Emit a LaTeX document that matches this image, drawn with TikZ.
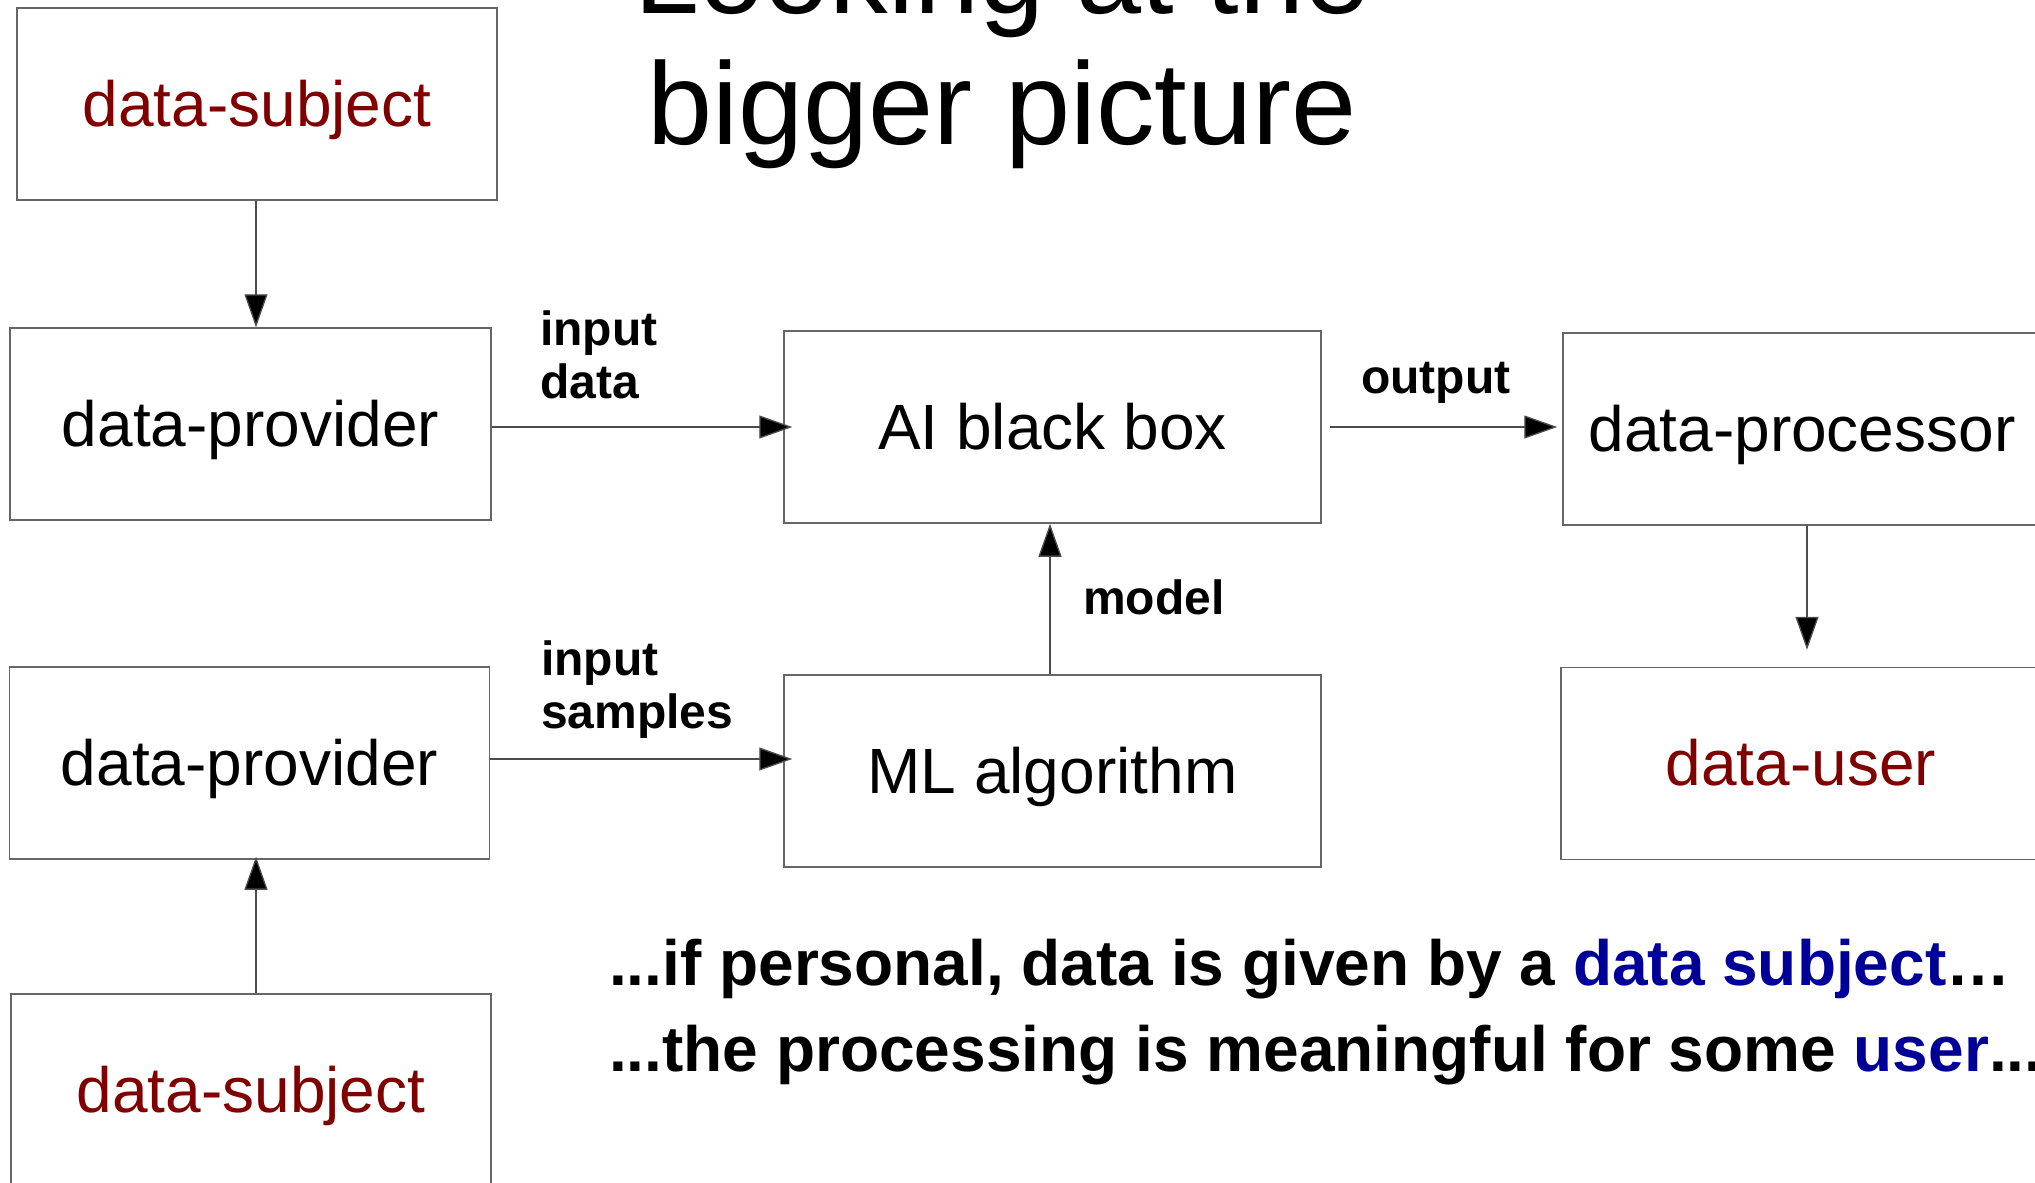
\documentclass[tikz,border=0pt]{standalone}
\usepackage{fontspec}
\setmainfont{Liberation Sans}
\usetikzlibrary{arrows.meta}
\definecolor{subjred}{HTML}{800000}
\definecolor{hiblue}{HTML}{000099}
\definecolor{edgegray}{HTML}{666666}
\begin{document}
\begin{tikzpicture}[x=1pt,y=-1pt,
  box/.style={draw=edgegray, line width=1.5pt, inner sep=0pt, minimum height=192pt,
    font=\fontsize{64}{74}\selectfont, text height=57.6pt, text depth=13.4pt},
  flow/.style={draw=black!70, line width=1.3pt, -{Triangle[length=33pt,width=23pt,fill=black]}},
  lbl/.style={font=\fontsize{48}{53}\selectfont\bfseries, inner sep=0pt, align=left},
]
\useasboundingbox (0,0) rectangle (2035,1183);
\clip (0,0) rectangle (2035,1183);

% title (base anchor sits on the last line)
\node[font=\fontsize{117}{131}\selectfont, inner sep=0pt, align=center, anchor=base]
  (title) at (1002,144) {Looking at the\\bigger picture};

% boxes
\node[box, minimum width=480pt, text=subjred] (ds1) at (257,104)    {data-subject};
\node[box, minimum width=481pt]               (dp1) at (250.5,424)  {data-provider};
\node[box, minimum width=537pt]               (ai)  at (1052.5,427) {AI black box};
\node[box, minimum width=478pt]               (proc) at (1802,429)  {data-processor};
\node[box, minimum width=480pt]               (dp2) at (249.5,763)  {data-provider};
\node[box, minimum width=537pt]               (ml)  at (1052.5,771) {ML algorithm};
\node[box, minimum width=480pt, text=subjred] (user) at (1801,763.5) {data-user};
\node[box, minimum width=480pt, text=subjred] (ds2) at (251,1090)   {data-subject};

% connectors
\draw[flow] ([xshift=-1pt]ds1.south) -- ([xshift=-1pt]ds1.south |- dp1.north);
\draw[flow] (dp1.east |- ai.west) -- ([xshift=9pt]ai.west);
\draw[flow] ([xshift=8pt]ai.east) -- ([xshift=-5pt]ai.east -| proc.west);
\draw[flow] ([xshift=-2.5pt]ml.north) -- ([xshift=-2.5pt]ai.south);
\draw[flow] ([yshift=4pt]dp2.east) -- ([xshift=9pt,yshift=4pt]dp2.east -| ml.west);
\draw[flow] ([xshift=5pt]proc.south) -- ([xshift=5pt,yshift=17pt]proc.south |- user.north);
\draw[flow] ([xshift=5pt]ds2.north) -- ([xshift=5pt,yshift=3pt]ds2.north |- dp2.south);

% connector labels
\node[lbl, anchor=base west] (lin)  at (540,398)  {input\\data};
\node[lbl, anchor=base west] (lout) at (1361,393) {output};
\node[lbl, anchor=base west] (lmod) at (1083,614) {model};
\node[lbl, anchor=base west] (lsam) at (541,728)  {input\\samples};

% remark
\node[font=\fontsize{64}{86}\selectfont\bfseries, inner sep=0pt, align=left, anchor=base west]
  (remark) at (609,1071)
  {...if personal, data is given by a \textcolor{hiblue}{data subject}…\\
   ...the processing is meaningful for some \textcolor{hiblue}{user}...};
\end{tikzpicture}
\end{document}
